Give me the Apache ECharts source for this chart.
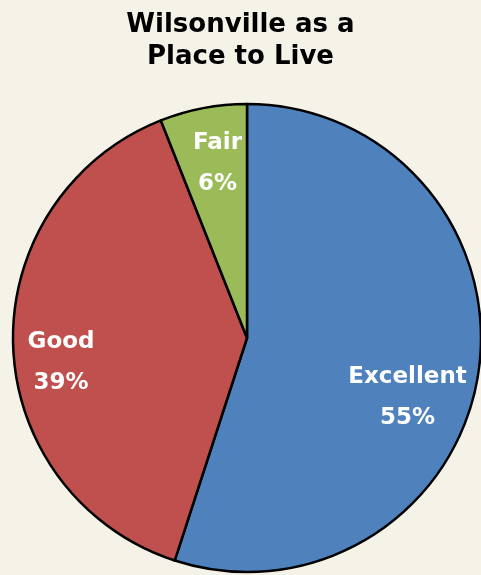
<!DOCTYPE html>
<html>
<head>
<meta charset="utf-8">
<script src="https://cdn.jsdelivr.net/npm/echarts@6/dist/echarts.min.js"></script>
<style>
  html, body { margin: 0; padding: 0; background: #f5f2e7; }
  #chart { width: 481px; height: 575px; }
</style>
</head>
<body>
<div id="chart"></div>
<script>
var categories = ['Excellent', 'Good', 'Fair'];
var values = [55, 39, 6];
var colors = ['#4f81bd', '#c0504d', '#9bbb59'];
// nudges so labels sit where the original puts them
var labelOffsets = [[42, 41], [-66, 21], [-7, -57]];

var chart = echarts.init(document.getElementById('chart'));

chart.setOption({
    backgroundColor: '#f5f2e7',
    title: {
        text: 'Wilsonville as a\nPlace to Live',
        left: 'center',
        top: 4,
        textStyle: {
            fontFamily: 'DejaVu Sans',
            fontWeight: 'bold',
            fontSize: 26,
            lineHeight: 32,
            color: '#000'
        }
    },
    series: [{
        type: 'pie',
        center: [247, 338],
        radius: 234,
        startAngle: 90,
        clockwise: true,
        avoidLabelOverlap: false,
        animation: false,
        itemStyle: {
            borderColor: '#000',
            borderWidth: 2.5
        },
        label: {
            position: 'inside',
            formatter: '{b}\n{d}%',
            color: '#fff',
            fontFamily: 'DejaVu Sans',
            fontWeight: 'bold',
            fontSize: 23,
            lineHeight: 41
        },
        labelLine: { show: false },
        emphasis: { disabled: true },
        data: categories.map(function (name, i) {
            return {
                name: name,
                value: values[i],
                itemStyle: { color: colors[i] },
                label: { offset: labelOffsets[i] }
            };
        })
    }]
});
</script>
</body>
</html>
